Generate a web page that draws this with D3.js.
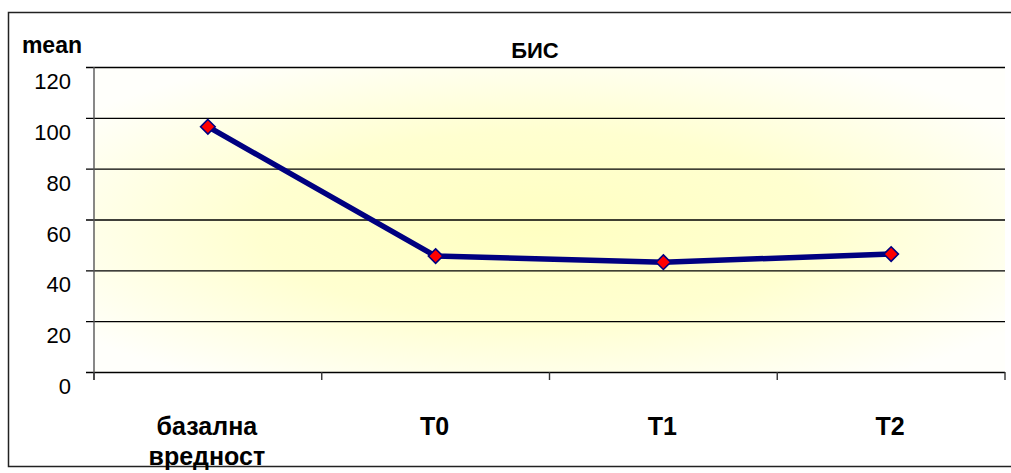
<!DOCTYPE html>
<html>
<head>
<meta charset="utf-8">
<script src="https://cdn.jsdelivr.net/npm/d3@7"></script>
<style>
  html, body { margin: 0; padding: 0; background: #ffffff; }
  svg { display: block; }
  text { font-family: "Liberation Sans", Arial, Helvetica, sans-serif; fill: #000; }
</style>
</head>
<body>
<svg id="chart" width="1011" height="473"></svg>
<script>
// Chart data
const categories = [["базална", "вредност"], ["T0"], ["T1"], ["T2"]];
const categoryKeys = ["базална вредност", "T0", "T1", "T2"];
const meanValues = [96.5, 45.6, 43.2, 46.4];
const yTicks = [0, 20, 40, 60, 80, 100, 120];
const chartTitle = "БИС";
const yAxisTitle = "mean";

const svg = d3.select("#chart");

// Plot area
const plot = { left: 94, right: 1005, top: 67, bottom: 372 };

const x = d3.scaleBand().domain(categoryKeys).range([plot.left, plot.right]).padding(0);
const y = d3.scaleLinear().domain([0, 120]).range([plot.bottom, plot.top]);

// Outer chart frame
svg.append("rect")
  .attr("x", 8.5).attr("y", 12.5)
  .attr("width", 1011).attr("height", 454)
  .attr("fill", "#ffffff")
  .attr("stroke", "#222").attr("stroke-width", 1.5);

// Soft yellow glow behind the plot
const defs = svg.append("defs");
const grad = defs.append("radialGradient")
  .attr("id", "plotGlow")
  .attr("cx", "0.49").attr("cy", "0.52").attr("r", "0.62");
grad.append("stop").attr("offset", "0%").attr("stop-color", "#ffffc2");
grad.append("stop").attr("offset", "50%").attr("stop-color", "#ffffd0");
grad.append("stop").attr("offset", "100%").attr("stop-color", "#fffffb");

svg.append("rect")
  .attr("x", plot.left).attr("y", plot.top)
  .attr("width", plot.right - plot.left).attr("height", plot.bottom - plot.top)
  .attr("fill", "url(#plotGlow)");

// Horizontal gridlines, extending left of the plot as tick marks
const grid = svg.append("g").attr("transform", `translate(${plot.left - 8},0)`)
  .call(d3.axisRight(y).tickValues(yTicks).tickSize(plot.right - plot.left + 8).tickFormat(""));
grid.select(".domain").remove();
grid.selectAll(".tick line").attr("stroke", "#000").attr("stroke-width", 1.4);

// Y tick labels
svg.append("g").selectAll("text")
  .data(yTicks)
  .join("text")
  .attr("x", 71)
  .attr("y", d => y(d) + 22)
  .attr("text-anchor", "end")
  .attr("font-size", 22)
  .text(d => d);

// Left axis line
svg.append("line")
  .attr("x1", plot.left).attr("x2", plot.left)
  .attr("y1", plot.top).attr("y2", plot.bottom + 8)
  .attr("stroke", "#555").attr("stroke-width", 1.4);

// Category axis boundary ticks
const boundaries = categoryKeys.map(c => x(c)).concat([plot.right]);
svg.append("g").attr("transform", `translate(0,${plot.bottom})`)
  .selectAll("line")
  .data(boundaries)
  .join("line")
  .attr("x1", d => d).attr("x2", d => d)
  .attr("y1", 0).attr("y2", 8)
  .attr("stroke", "#333").attr("stroke-width", 1.4);

// Category labels
const catLabels = svg.append("g").selectAll("text")
  .data(categoryKeys)
  .join("text")
  .attr("x", d => x(d) + x.bandwidth() / 2 - 1)
  .attr("y", 435)
  .attr("text-anchor", "middle")
  .attr("font-size", 25)
  .attr("font-weight", "bold");
catLabels.each(function(d, i) {
  const t = d3.select(this);
  categories[i].forEach((line, j) => {
    t.append("tspan")
      .attr("x", x(d) + x.bandwidth() / 2 - 1)
      .attr("dy", j === 0 ? 0 : 30)
      .text(line);
  });
});

// Titles
svg.append("text")
  .attr("x", 535).attr("y", 58)
  .attr("text-anchor", "middle")
  .attr("font-size", 22).attr("font-weight", "bold")
  .text(chartTitle);

svg.append("text")
  .attr("x", 82).attr("y", 53)
  .attr("text-anchor", "end")
  .attr("font-size", 23).attr("font-weight", "bold")
  .text(yAxisTitle);

// Series line
const pts = categoryKeys.map((c, i) => [x(c) + x.bandwidth() / 2, y(meanValues[i])]);
svg.append("path")
  .datum(pts)
  .attr("d", d3.line())
  .attr("fill", "none")
  .attr("stroke", "#000080")
  .attr("stroke-width", 5.5)
  .attr("stroke-linejoin", "round");

// Diamond markers
const diamond = d3.symbol().type(d3.symbolDiamond2).size(135);
svg.append("g").selectAll("path")
  .data(pts)
  .join("path")
  .attr("transform", d => `translate(${d[0]},${d[1]})`)
  .attr("d", diamond)
  .attr("fill", "#ff0000")
  .attr("stroke", "#000080")
  .attr("stroke-width", 1.6);
</script>
</body>
</html>
